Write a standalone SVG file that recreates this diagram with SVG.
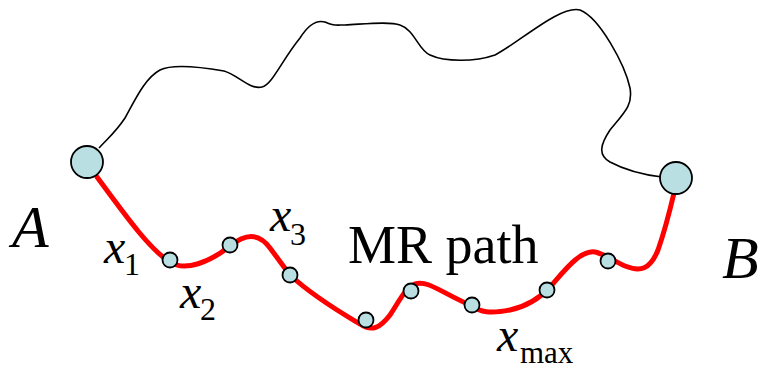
<svg xmlns="http://www.w3.org/2000/svg" width="764" height="369" viewBox="0 0 764 369">
<style>
.bg{fill:#ffffff}
.wire{fill:none;stroke:#000;stroke-width:1.6}
.mr{fill:none;stroke:#ff0000;stroke-width:5;stroke-linecap:round}
.nd{fill:#b9dfe2;stroke:#000;stroke-width:1.8}
.lbl{font-family:"Liberation Serif","Times New Roman",serif;fill:#000}
.it{font-style:italic}
</style>
<rect class="bg" x="0" y="0" width="764" height="369"/>
<g id="connectors">
<path class="wire" d="M99,148 C108,138 115,133 125,118 C135,100 145,78 160,70 C172,64 195,66 224,71 C238,75 250,90 262,87 C272,85 282,60 300,38 C310,22 318,20 325,22 C333,26 336,25 345,25 C365,24 390,21 400,25 C415,30 418,50 430,55 C445,62 475,62 495,55 C520,42 560,5 580,10 C600,18 625,65 630,88 C633,105 625,112 610,130 C600,145 598,155 610,162 C625,170 645,175 662,177"/>
<path class="mr" d="M97,177 C125,215 150,250 170,262 C185,272 210,262 230,246 C245,234 258,232 270,248 L290,275 C315,298 345,315 360,324 C372,332 380,328 390,315 C400,300 405,288 415,284 C428,280 440,292 472,306 C480,312 490,314 510,310 C528,306 540,298 550,287 C565,270 580,250 595,252 C605,254 615,262 625,266 C640,272 650,270 658,250 C665,230 670,210 674,193"/>
</g>
<g id="nodeA"><circle class="nd" cx="87" cy="162" r="16"/></g>
<g id="nodeB"><circle class="nd" cx="676" cy="178" r="16"/></g>
<g id="n1"><circle class="nd" cx="170" cy="260" r="7.5"/></g>
<g id="n2"><circle class="nd" cx="230" cy="245" r="7.5"/></g>
<g id="n3"><circle class="nd" cx="290" cy="275" r="7.5"/></g>
<g id="n4"><circle class="nd" cx="366" cy="320" r="7.5"/></g>
<g id="n5"><circle class="nd" cx="411" cy="291" r="7.5"/></g>
<g id="n6"><circle class="nd" cx="472" cy="305" r="7.5"/></g>
<g id="n7"><circle class="nd" cx="547" cy="290" r="7.5"/></g>
<g id="n8"><circle class="nd" cx="608" cy="261" r="7.5"/></g>
<g id="labels">
<text class="lbl it" x="12" y="247" font-size="60">A</text>
<text class="lbl it" x="722" y="278" font-size="60">B</text>
<text class="lbl" x="348" y="263" font-size="54">MR path</text>
<text class="lbl it" x="104" y="263" font-size="48">x</text>
<text class="lbl" x="124" y="275" font-size="32">1</text>
<text class="lbl it" x="180" y="308" font-size="48">x</text>
<text class="lbl" x="200" y="320" font-size="32">2</text>
<text class="lbl it" x="270" y="231" font-size="48">x</text>
<text class="lbl" x="290" y="245" font-size="32">3</text>
<text class="lbl it" x="497" y="351" font-size="48">x</text>
<text class="lbl" x="520" y="363" font-size="31">max</text>
</g>
</svg>
